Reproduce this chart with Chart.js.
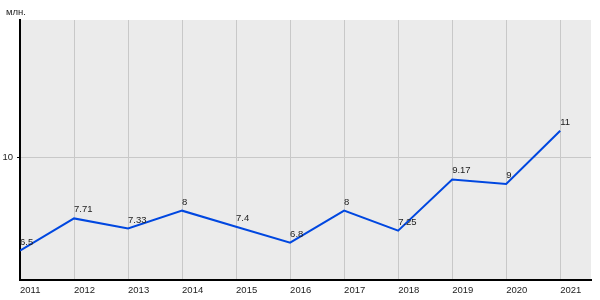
<!DOCTYPE html>
<html>
<head>
<meta charset="utf-8">
<script src="https://cdn.jsdelivr.net/npm/chart.js@4/dist/chart.umd.min.js"></script>
<style>
  html, body { margin: 0; padding: 0; background: #fff; }
  #wrap { width: 600px; height: 300px; position: relative; }
</style>
</head>
<body>
<div id="wrap"><canvas id="chart"></canvas></div>
<script>
// data
let years = [2011, 2012, 2013, 2014, 2015, 2016, 2017, 2018, 2019, 2020, 2021];
let values = [6.5, 7.71, 7.33, 8, 7.4, 6.8, 8, 7.25, 9.17, 9, 11];
let yTicks = [10];
let unitLabel = "млн.";

let font = { family: "'Liberation Sans', Arial, sans-serif", size: 9.5 };

let areaBg = {
  id: "areaBg",
  beforeDraw(chart) {
    let a = chart.chartArea, ctx = chart.ctx;
    ctx.save();
    ctx.fillStyle = "#ebebeb";
    ctx.fillRect(a.left, a.top, a.right - a.left, a.bottom - a.top);
    ctx.restore();
  }
};

let pointLabels = {
  id: "pointLabels",
  afterDatasetsDraw(chart) {
    let ctx = chart.ctx;
    let meta = chart.getDatasetMeta(0);
    ctx.save();
    ctx.font = font.size + "px " + font.family;
    ctx.fillStyle = "#222";
    ctx.textAlign = "left";
    ctx.textBaseline = "alphabetic";
    meta.data.forEach((pt, i) => {
      ctx.fillText(String(values[i]), pt.x, pt.y - 6);
    });
    // unit text top-left
    ctx.fillText(unitLabel, 6, 15);
    ctx.restore();
  }
};

new Chart(document.getElementById("chart"), {
  type: "line",
  data: {
    datasets: [{
      data: years.map((y, i) => ({ x: y, y: values[i] })),
      borderColor: "#0047e0",
      borderWidth: 2,
      pointRadius: 0,
      tension: 0,
      fill: false
    }]
  },
  options: {
    responsive: true,
    maintainAspectRatio: false,
    animation: false,
    layout: { padding: { top: 20, right: 9, left: 0, bottom: 0 } },
    plugins: { legend: { display: false }, tooltip: { enabled: false } },
    scales: {
      x: {
        type: "linear",
        min: 2011,
        max: 2021.57,
        afterBuildTicks: axis => { axis.ticks = years.map(v => ({ value: v })); },
        afterFit: axis => { axis.height = 20; },
        grid: { color: "#c8c8c8", lineWidth: 1, drawTicks: false },
        border: { color: "#000", width: 2 },
        ticks: {
          align: "start",
          padding: 5,
          maxRotation: 0,
          color: "#222",
          font: font,
          callback: v => String(v)
        }
      },
      y: {
        min: 5.4,
        max: 15.15,
        afterBuildTicks: axis => { axis.ticks = yTicks.map(v => ({ value: v })); },
        afterFit: axis => { axis.width = 20; },
        grid: { color: "#c8c8c8", lineWidth: 1, tickLength: 3, tickColor: "#000" },
        border: { color: "#000", width: 2 },
        ticks: { padding: 4, color: "#222", font: font }
      }
    }
  },
  plugins: [areaBg, pointLabels]
});
</script>
</body>
</html>
